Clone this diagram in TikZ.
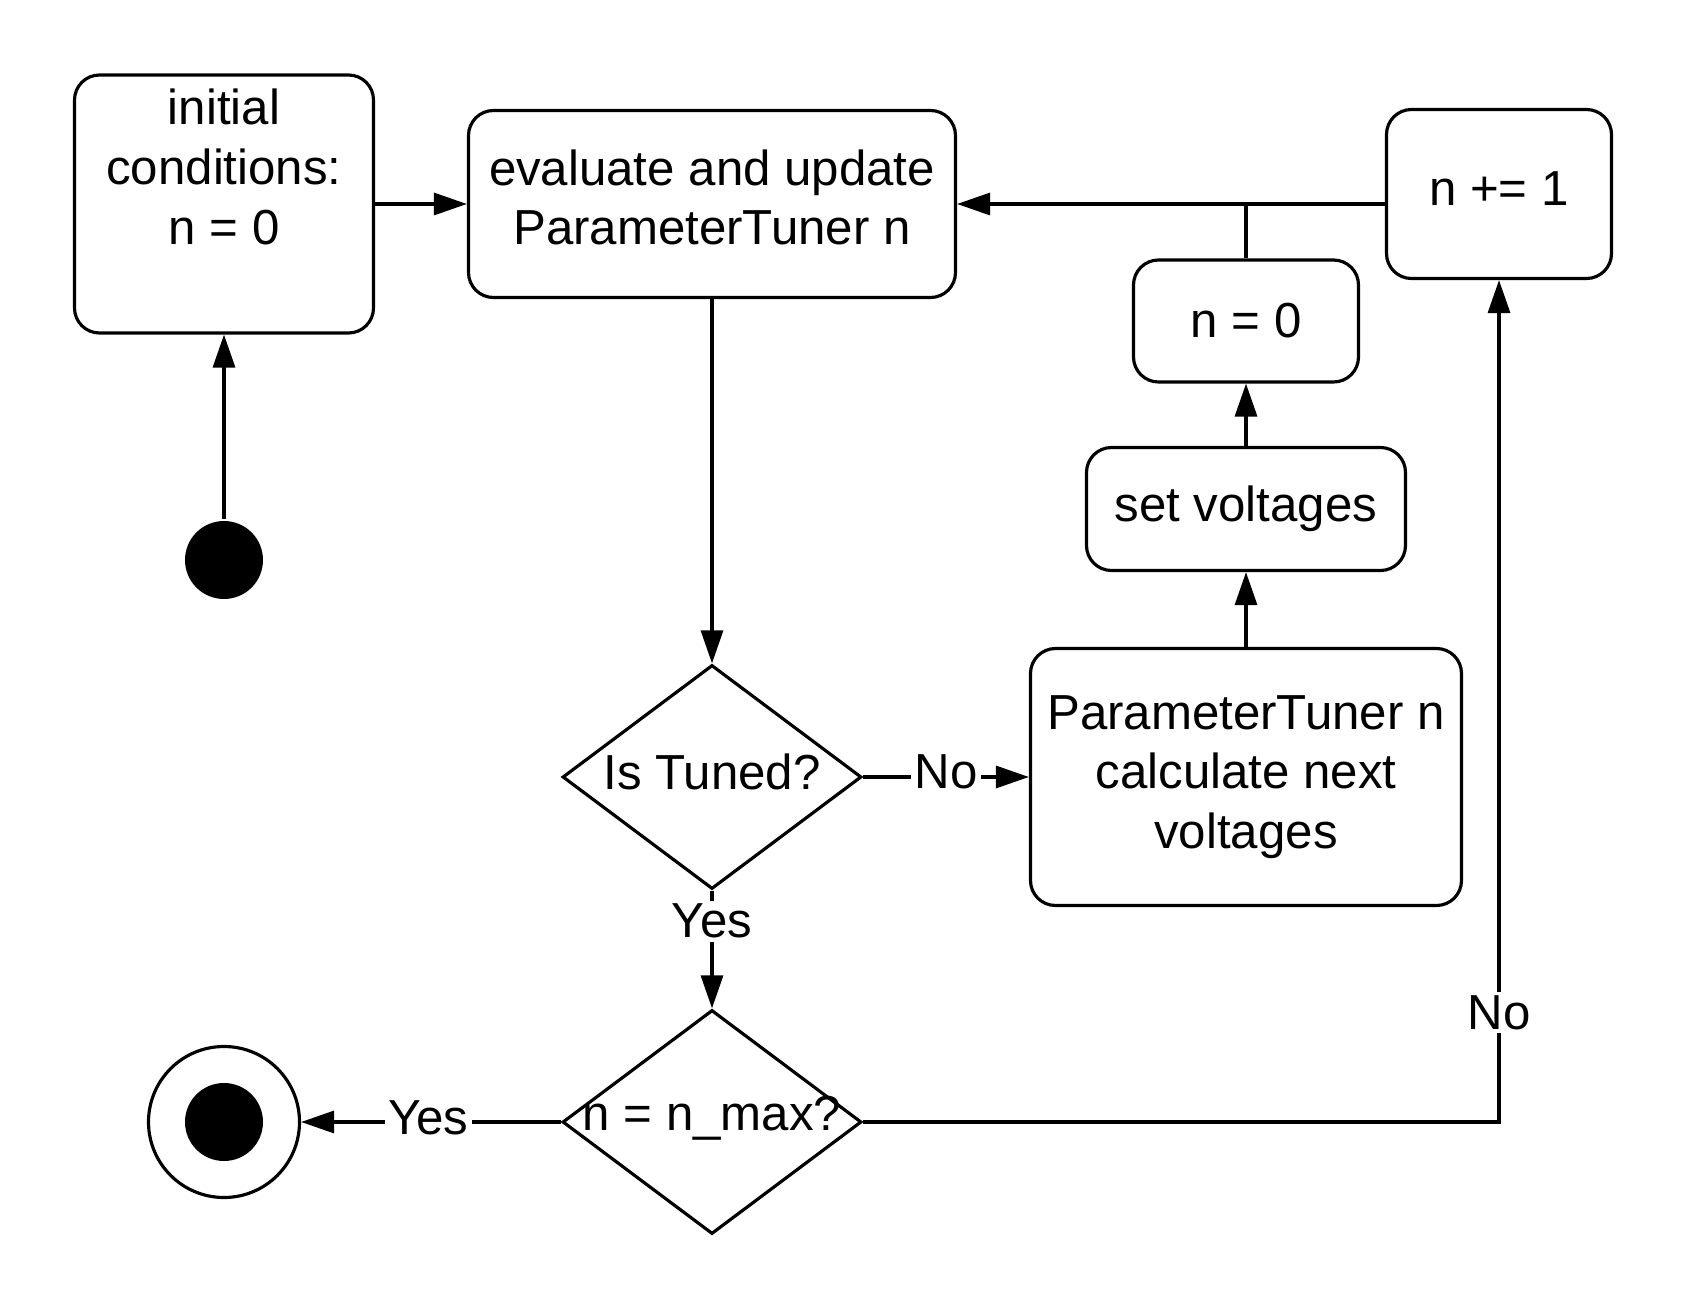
\documentclass[tikz,border=0pt]{standalone}
\usepackage{fontspec}
\setmainfont{Liberation Sans}
\usetikzlibrary{shapes.geometric, arrows.meta, positioning}

\begin{document}
\begin{tikzpicture}[node distance=2cm, line width=0.9pt, font=\fontsize{14}{17}\selectfont,
    box/.style={draw, rectangle, rounded corners=0.25cm, align=center, inner sep=0pt},
    choice/.style={draw, diamond, inner sep=0pt, minimum width=2.99cm, minimum height=2.24cm},
    arr/.style={-{Triangle[length=3.3mm, width=2.2mm]}},
    lbl/.style={fill=white, inner sep=1pt}]
    \useasboundingbox (0,0) rectangle (16.88,-13.11);

    \node[box, minimum width=2.99cm, minimum height=2.58cm,
        label={[align=center, yshift=0.37cm]center:{initial\\conditions:\\n = 0}}] (init) at (2.24,-2.04) {};
    \node[box, minimum width=4.87cm, minimum height=1.87cm, right of=init, xshift=2.88cm,
        label={[align=center, yshift=0.065cm]center:{evaluate and update\\ParameterTuner n}}] (eval) {};
    \node[choice, below of=eval, yshift=-3.73cm, label={[yshift=0.05cm]center:{Is Tuned?}}] (tuned) {};
    \node[choice, below of=tuned, yshift=-1.45cm, label={[yshift=0.04cm]center:{n = n\_max?}}] (nmax) {};
    \node[box, minimum width=4.31cm, minimum height=2.57cm, right of=tuned, xshift=3.34cm] (calc) {ParameterTuner n\\calculate next\\voltages};
    \node[box, minimum width=3.19cm, minimum height=1.23cm, above of=calc, yshift=0.68cm] (setv) {set voltages};
    \node[box, minimum width=2.25cm, minimum height=1.22cm, above of=setv, yshift=-0.12cm] (nzero) {n = 0};
    \node[box, minimum width=2.25cm, minimum height=1.69cm, right of=eval, xshift=5.87cm, yshift=0.1cm,
        label={[yshift=0.05cm]center:{n += 1}}] (ninc) {};

    \node[circle, fill=black, minimum size=0.78cm, inner sep=0pt, below of=init, yshift=-1.56cm] (start) {};
    \node[draw, circle, minimum size=1.51cm, inner sep=0pt, left of=nmax, xshift=-2.88cm,
        path picture={\fill (path picture bounding box.center) circle (0.39cm);}] (final) {};

    \draw[arr] (start) -- (init);
    \draw[arr] (init) -- (eval);
    \draw[arr] (eval) -- (tuned);
    \draw[arr] (tuned) -- node[lbl, yshift=0.05cm] {No} (calc);
    \draw[arr] (tuned) -- node[lbl, pos=0.26] {Yes} (nmax);
    \draw[arr] (calc) -- (setv);
    \draw[arr] (setv) -- (nzero);
    \draw (nzero) -- (nzero |- eval.east);
    \draw[arr] (ninc.west |- eval.east) -- (eval.east);
    \draw[arr] (nmax.east) -| node[lbl, pos=0.565] {No} (ninc.south);
    \draw[arr] (nmax) -- node[lbl, pos=0.51, yshift=0.04cm] {Yes} (final);
\end{tikzpicture}
\end{document}
